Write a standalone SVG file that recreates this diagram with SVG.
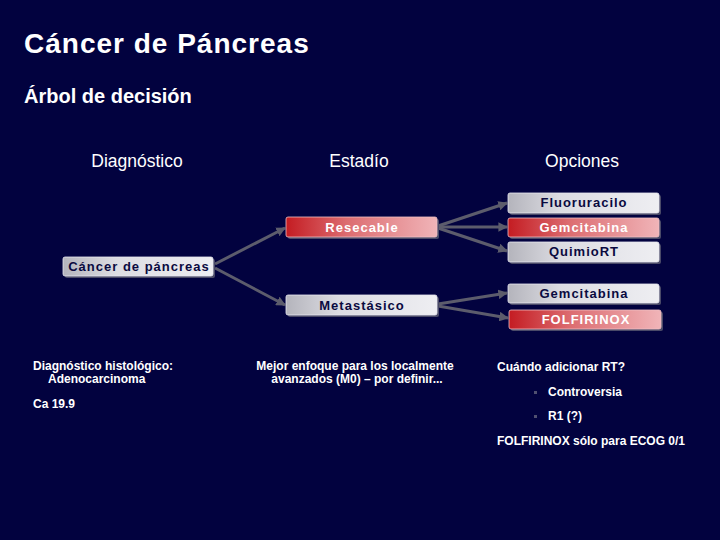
<svg xmlns="http://www.w3.org/2000/svg" width="720" height="540" viewBox="0 0 720 540">
<defs>
<linearGradient id="gGray" x1="0" y1="0" x2="1" y2="0">
<stop offset="0" stop-color="#b4b4bc"/>
<stop offset="0.35" stop-color="#dcdce2"/>
<stop offset="1" stop-color="#eeeef2"/>
</linearGradient>
<linearGradient id="gRed" x1="0" y1="0" x2="1" y2="0">
<stop offset="0" stop-color="#c41c22"/>
<stop offset="0.4" stop-color="#dc6c70"/>
<stop offset="1" stop-color="#f0b4b8"/>
</linearGradient>
<marker id="arr" viewBox="0 0 10 10" refX="9" refY="5" markerWidth="3.2" markerHeight="3.2" orient="auto">
<path d="M0,0 L10,5 L0,10 z" fill="#5c5c6c"/>
</marker>
<style>
.bg{fill:#02023f}
.sh{fill:#4a4a68}
.gray{fill:url(#gGray);stroke:#e8e8f0;stroke-width:0.8}
.red{fill:url(#gRed);stroke:#f0c0c4;stroke-width:0.8}
.t{font-family:"Liberation Sans",Arial,sans-serif;fill:#ffffff}
.bt{font-family:"Liberation Sans",Arial,sans-serif;font-size:13px;font-weight:bold;text-anchor:middle;letter-spacing:1px}
.dk{fill:#0a0a40}
.wh{fill:#ffffff}
.sm{font-family:"Liberation Sans",Arial,sans-serif;font-size:12px;font-weight:bold;fill:#ffffff}
.con{stroke:#5c5c6c;stroke-width:3;fill:none;marker-end:url(#arr)}
</style>
</defs>
<rect class="bg" x="0" y="0" width="720" height="540"/>
<text class="t" x="24" y="53" font-size="28" font-weight="bold" letter-spacing="1">Cáncer de Páncreas</text>
<text class="t" x="24" y="103" font-size="20" font-weight="bold">Árbol de decisión</text>
<text class="t" x="137" y="167" font-size="17.5" text-anchor="middle">Diagnóstico</text>
<text class="t" x="359" y="167" font-size="17.5" text-anchor="middle">Estadío</text>
<text class="t" x="582" y="167" font-size="17.5" text-anchor="middle">Opciones</text>

<g id="connectors">
<line class="con" x1="215" y1="264" x2="285" y2="228"/>
<line class="con" x1="215" y1="268" x2="285" y2="305"/>
<line class="con" x1="438" y1="226" x2="507" y2="203"/>
<line class="con" x1="438" y1="227" x2="507" y2="227"/>
<line class="con" x1="438" y1="228" x2="507" y2="251"/>
<line class="con" x1="438" y1="304" x2="507" y2="293"/>
<line class="con" x1="438" y1="306" x2="508" y2="318"/>
</g>

<g id="n-cancer">
<rect class="sh" x="65" y="259" width="150" height="19" rx="2"/>
<rect class="gray" x="63" y="257" width="150" height="19" rx="2"/>
<text class="bt dk" x="139" y="271">Cáncer de páncreas</text>
</g>
<g id="n-resecable">
<rect class="sh" x="288" y="219" width="151" height="20" rx="2"/>
<rect class="red" x="286" y="217" width="151" height="20" rx="2"/>
<text class="bt wh" x="362" y="232">Resecable</text>
</g>
<g id="n-metastasico">
<rect class="sh" x="288" y="297" width="151" height="20" rx="2"/>
<rect class="gray" x="286" y="295" width="151" height="20" rx="2"/>
<text class="bt dk" x="362" y="310">Metastásico</text>
</g>
<g id="n-fluoruracilo">
<rect class="sh" x="510" y="195" width="151" height="20" rx="2"/>
<rect class="gray" x="508" y="193" width="151" height="20" rx="2"/>
<text class="bt dk" x="584" y="207">Fluoruracilo</text>
</g>
<g id="n-gemcitabina1">
<rect class="sh" x="510" y="220" width="151" height="19" rx="2"/>
<rect class="red" x="508" y="218" width="151" height="19" rx="2"/>
<text class="bt wh" x="584" y="232">Gemcitabina</text>
</g>
<g id="n-quimiort">
<rect class="sh" x="510" y="244" width="151" height="20" rx="2"/>
<rect class="gray" x="508" y="242" width="151" height="20" rx="2"/>
<text class="bt dk" x="584" y="256">QuimioRT</text>
</g>
<g id="n-gemcitabina2">
<rect class="sh" x="510" y="286" width="151" height="19" rx="2"/>
<rect class="gray" x="508" y="284" width="151" height="19" rx="2"/>
<text class="bt dk" x="584" y="298">Gemcitabina</text>
</g>
<g id="n-folfirinox">
<rect class="sh" x="511" y="312" width="152" height="19" rx="2"/>
<rect class="red" x="509" y="310" width="152" height="19" rx="2"/>
<text class="bt wh" x="586" y="324">FOLFIRINOX</text>
</g>

<text class="sm" x="33" y="370">Diagnóstico histológico:</text>
<text class="sm" x="48" y="383">Adenocarcinoma</text>
<text class="sm" x="33" y="408">Ca 19.9</text>
<text class="sm" x="355" y="370" text-anchor="middle">Mejor enfoque para los localmente</text>
<text class="sm" x="357" y="383" text-anchor="middle">avanzados (M0) – por definir...</text>
<text class="sm" x="497" y="371">Cuándo adicionar RT?</text>
<rect x="534" y="391" width="3" height="3" fill="#505070"/>
<text class="sm" x="548" y="396">Controversia</text>
<rect x="534" y="415" width="3" height="3" fill="#505070"/>
<text class="sm" x="548" y="420">R1 (?)</text>
<text class="sm" x="497" y="445">FOLFIRINOX sólo para ECOG 0/1</text>
</svg>
